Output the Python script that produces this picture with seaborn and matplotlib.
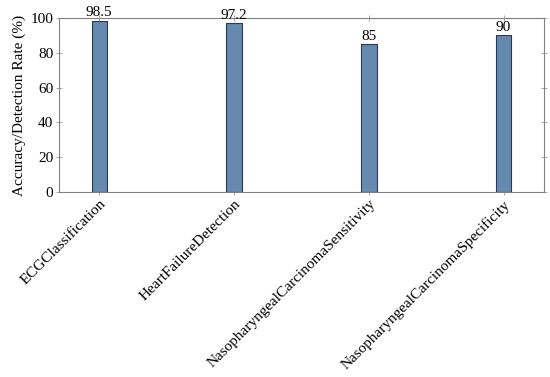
import matplotlib
matplotlib.use("Agg")
import matplotlib.pyplot as plt
import seaborn as sns
import pandas as pd

categories = ["ECGClassification", "HeartFailureDetection",
              "NasopharyngealCarcinomaSensitivity", "NasopharyngealCarcinomaSpecificity"]
values = [98.5, 97.2, 85, 90]
value_labels = ["98.5", "97.2", "85", "90"]
yticks = [0, 20, 40, 60, 80, 100]

sns.set_theme(style="white")
plt.rcParams['font.family'] = ['Liberation Serif', 'DejaVu Serif']

df = pd.DataFrame({"cat": categories, "val": values})

fig = plt.figure(figsize=(5.5, 3.77), dpi=100)
ax = fig.add_axes([0.107, 0.491, 0.882, 0.461])
sns.barplot(data=df, x="cat", y="val", ax=ax, width=0.115,
            color="#6689b0", edgecolor="#2a3a50", linewidth=0.8, saturation=1)

ax.set_xlim(-0.3, 3.3)
ax.set_ylim(0, 100)
ax.set_yticks(yticks)
ax.set_yticklabels([str(t) for t in yticks], fontsize=11, color="black")
ax.set_xticks(range(len(categories)))
ax.set_xticklabels(categories, rotation=45, ha="right", rotation_mode="anchor",
                   fontsize=11, color="black")
ax.set_xlabel("")
ax.set_ylabel("Accuracy/Detection Rate (%)", fontsize=11, color="black", labelpad=3)

for i, (v, lab) in enumerate(zip(values, value_labels)):
    ax.annotate(lab, (i, v), xytext=(0, 1), textcoords="offset points",
                ha="center", va="bottom", fontsize=11, color="black")

for s in ax.spines.values():
    s.set_color("#808080")
    s.set_linewidth(0.8)
    s.set_visible(True)
ax.tick_params(axis="both", which="major", direction="inout", length=4, width=0.6,
               color="#999999", top=True, right=True, bottom=True, left=True,
               labeltop=False, labelright=False, pad=2)

fig.savefig("out.png", dpi=100)
